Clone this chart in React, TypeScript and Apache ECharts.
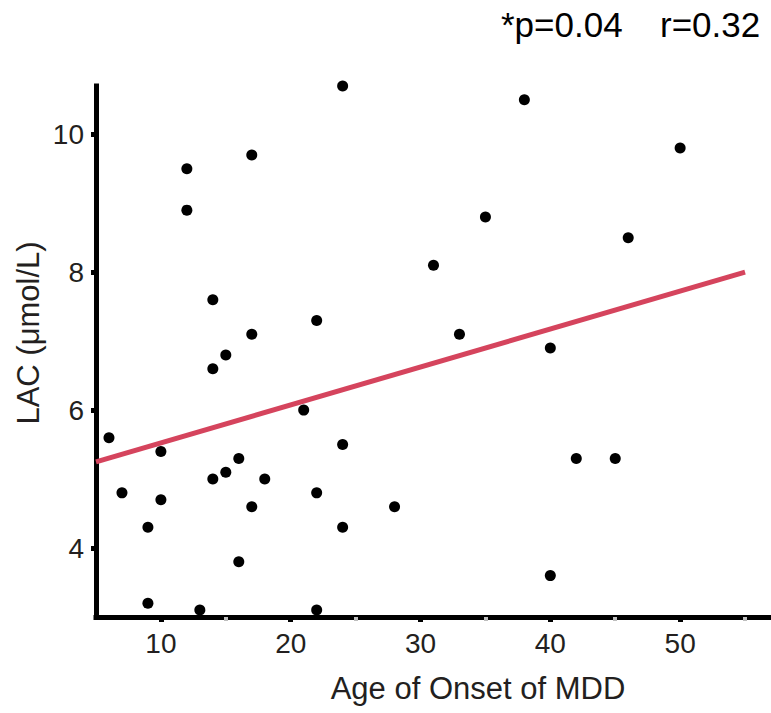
import React, { useEffect, useRef } from "react";
import * as echarts from "echarts";

const onsetAge = [6, 7, 9, 9, 10, 10, 12, 12, 13, 14, 14, 14, 15, 15, 16, 16, 17, 17, 17, 18, 21, 22, 22, 22, 24, 24, 24, 28, 31, 33, 35, 38, 40, 40, 42, 45, 46, 50];
const lacValues = [5.6, 4.8, 4.3, 3.2, 5.4, 4.7, 9.5, 8.9, 3.1, 7.6, 6.6, 5.0, 6.8, 5.1, 3.8, 5.3, 9.7, 7.1, 4.6, 5.0, 6.0, 7.3, 4.8, 3.1, 10.7, 5.5, 4.3, 4.6, 8.1, 7.1, 8.8, 10.5, 6.9, 3.6, 5.3, 5.3, 8.5, 9.8];
const fitX = [5, 55];
const fitY = [5.25, 8.0];
const xTicks = [10, 20, 30, 40, 50];
const xMinorTicks = [15, 25, 35, 45, 55];
const yTicks = [4, 6, 8, 10];
const statsP = "*p=0.04";
const statsR = "r=0.32";
const xName = "Age of Onset of MDD";
const yName = "LAC (μmol/L)";

const FONT = "'Liberation Sans', Arial, Helvetica, sans-serif";
const TEXT = "#231f20";

export default function App() {
  const ref = useRef<HTMLDivElement>(null);
  useEffect(() => {
    if (!ref.current) return;
    const chart = echarts.init(ref.current, null, { renderer: "svg" });
    const points = onsetAge.map((x, i) => [x, lacValues[i]]);
    const fit = fitX.map((x, i) => [x, fitY[i]]);
    chart.setOption({
      animation: false,
      backgroundColor: "#ffffff",
      grid: { left: 96, right: 0, top: 86, bottom: 96, containLabel: false },
      xAxis: [
        {
          type: "value",
          min: 5,
          max: 57,
          position: "bottom",
          axisLine: { show: true, onZero: false, lineStyle: { color: "#000", width: 5, cap: "square" } },
          axisTick: { show: true, customValues: xTicks, length: 5, lineStyle: { color: "#000", width: 5 } },
          axisLabel: { customValues: xTicks, fontSize: 28, color: TEXT, margin: 12, fontFamily: FONT },
          splitLine: { show: false },
        },
        {
          type: "value",
          min: 5,
          max: 57,
          position: "bottom",
          axisLine: { show: false },
          axisTick: { show: true, customValues: xMinorTicks, length: 4, lineStyle: { color: "#bdbdbd", width: 4 } },
          axisLabel: { show: false },
          splitLine: { show: false },
        },
      ],
      yAxis: {
        type: "value",
        min: 3,
        max: 10.7,
        axisLine: { show: true, onZero: false, lineStyle: { color: "#000", width: 5, cap: "square" } },
        axisTick: { show: true, customValues: yTicks, length: 5, lineStyle: { color: "#000", width: 5 } },
        axisLabel: { customValues: yTicks, fontSize: 28, color: TEXT, margin: 12, fontFamily: FONT },
        splitLine: { show: false },
      },
      series: [
        {
          type: "line",
          data: fit,
          xAxisIndex: 0,
          symbol: "none",
          lineStyle: { color: "#d5445d", width: 5 },
          z: 2,
        },
        {
          type: "scatter",
          data: points,
          xAxisIndex: 0,
          symbol: "circle",
          symbolSize: 11,
          itemStyle: { color: "#000", opacity: 1 },
          z: 3,
        },
      ],
      graphic: [
        {
          type: "text",
          left: 501,
          top: 7,
          style: { text: statsP, fontSize: 35, fill: "#000", fontFamily: FONT },
        },
        {
          type: "text",
          left: 660,
          top: 7,
          style: { text: statsR, fontSize: 35, fill: "#000", fontFamily: FONT },
        },
        {
          type: "text",
          x: 478,
          y: 688,
          style: { text: xName, fontSize: 31, fill: TEXT, fontFamily: FONT, align: "center", verticalAlign: "middle" },
        },
        {
          type: "text",
          x: 28,
          y: 333,
          rotation: Math.PI / 2,
          style: { text: yName, fontSize: 31, fill: TEXT, fontFamily: FONT, align: "center", verticalAlign: "middle" },
        },
      ],
    });
    return () => chart.dispose();
  }, []);
  return <div ref={ref} style={{ width: 771, height: 713, position: "absolute", left: 0, top: 0 }} />;
}
